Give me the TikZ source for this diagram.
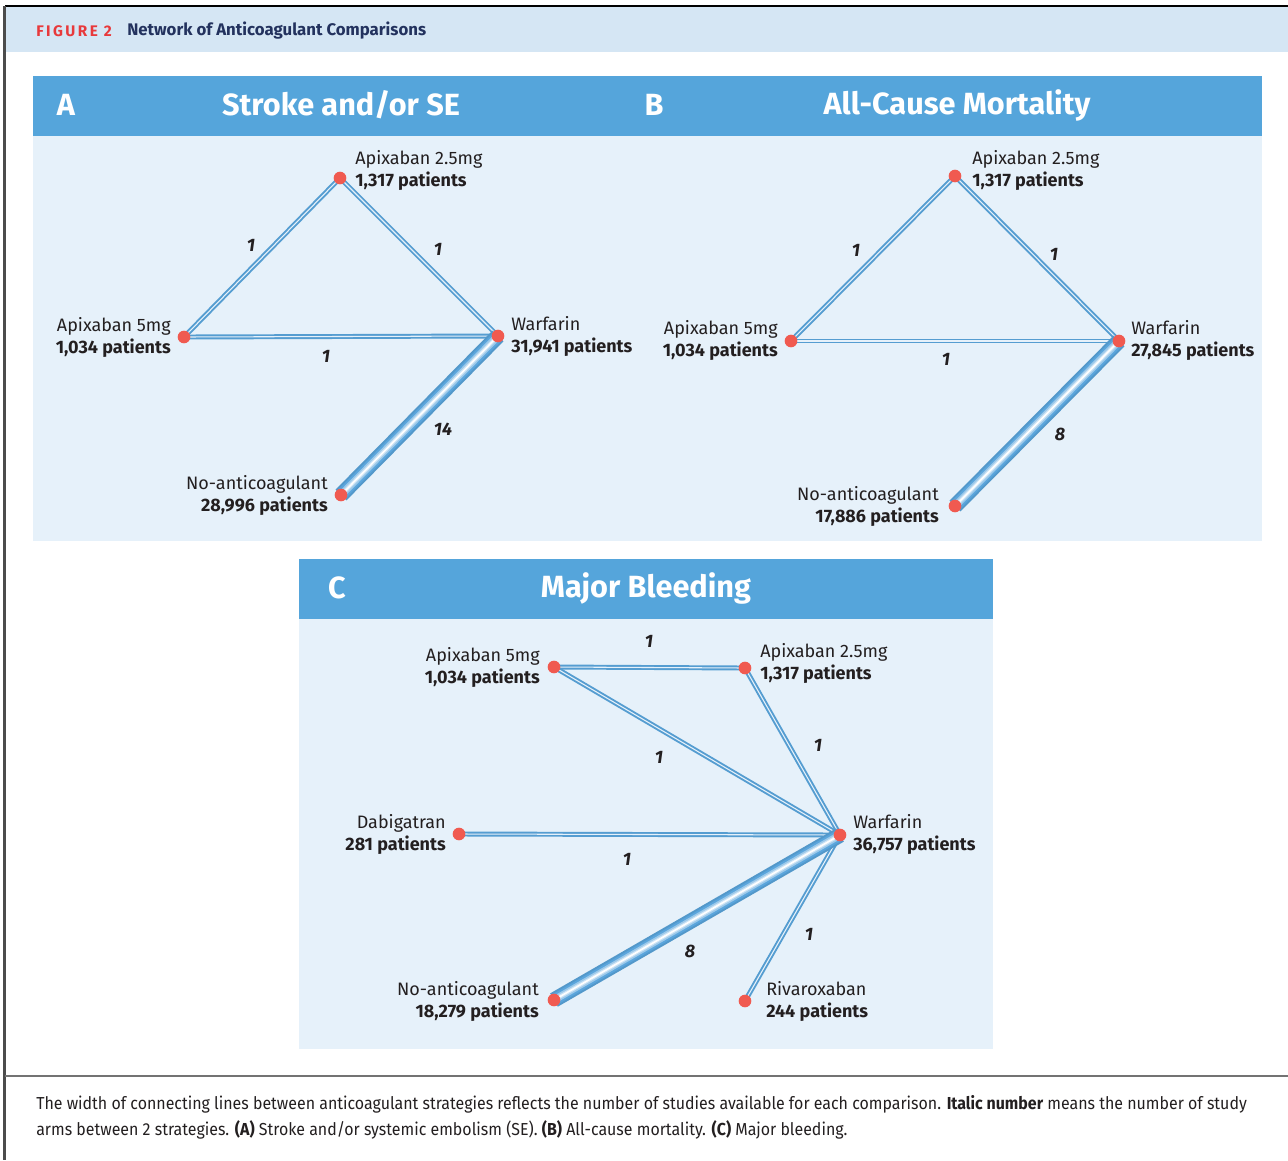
\documentclass[tikz,border=0pt]{standalone}
\usepackage{fontspec}
\setmainfont{Fira Sans}
\newfontfamily\capfont[FakeStretch=0.92]{Fira Sans}
\definecolor{hdrband}{HTML}{D5E6F4}
\definecolor{barblue}{HTML}{55A5DB}
\definecolor{panelbg}{HTML}{E6F1FA}
\definecolor{dotred}{HTML}{F05A50}
\definecolor{eblue}{HTML}{5AA5DC}
\definecolor{txt}{HTML}{231F20}
\definecolor{figred}{HTML}{E8393B}
\definecolor{navy}{HTML}{23325E}
\pgfdeclarelayer{bg}
\pgfdeclarelayer{edges}
\pgfsetlayers{bg,edges,main}
\tikzset{
  dot/.style={circle,fill=dotred,minimum size=9.5pt,inner sep=0pt},
  lbl/.style={inner sep=0pt,text=txt,font=\fontsize{13.5}{16.5}\selectfont},
  lblL/.style={lbl,anchor=west,align=left},
  lblR/.style={lbl,anchor=east,align=right},
  enum/.style={inner sep=0pt,text=txt,font=\fontsize{13.5}{13.5}\selectfont\bfseries\itshape},
  ttl/.style={inner sep=0pt,text=white,font=\fontsize{23}{23}\selectfont\bfseries},
  thinout/.style={line width=3.7pt,eblue!95!black},
  thinin/.style={line width=0.8pt,white!85!eblue},
  captxt/.style={anchor=west,inner sep=0pt,text=txt,font=\capfont\fontsize{13.0}{14}\selectfont},
}
\newcommand\thinedge[2]{\draw[thinout](#1.center)--(#2.center);\draw[thinin](#1.center)--(#2.center);}
\newcommand\thickedge[2]{%
  \draw[line width=11.5pt,eblue!92!black](#1.center)--(#2.center);
  \draw[line width=8.5pt,eblue](#1.center)--(#2.center);
  \draw[line width=5.5pt,eblue!60!white](#1.center)--(#2.center);
  \draw[line width=3pt,eblue!30!white](#1.center)--(#2.center);
  \draw[line width=1.2pt,white](#1.center)--(#2.center);}
\begin{document}
\begin{tikzpicture}[x=0.75pt,y=-0.75pt]
\useasboundingbox (0,0) rectangle (1288,1160);
\begin{pgfonlayer}{bg}
\fill[white] (0,0) rectangle (1288,1160);
\fill[hdrband] (6,7) rectangle (1288,52);
\draw[black,line width=0.9pt] (5,6) -- (1288,6);
\draw[black!70,line width=1.8pt] (4.5,6) -- (4.5,1160);
\draw[black!55,line width=2.2pt] (5,1076) -- (1288,1076);
\fill[barblue] (33,76) rectangle (1262,136);
\fill[panelbg] (33,136) rectangle (1262,541);
\fill[barblue] (299,559) rectangle (993,619);
\fill[panelbg] (299,619) rectangle (993,1049);
\end{pgfonlayer}

% header
\node[anchor=west,inner sep=0pt,text=figred,font=\fontsize{11.5}{12}\selectfont\bfseries\addfontfeatures{LetterSpace=16}] (fig) at (36,31) {FIGURE 2};
\node[anchor=west,inner sep=0pt,text=navy,font=\fontsize{12.6}{13}\selectfont\bfseries] (ftitle) at (127,31) {Network of Anticoagulant Comparisons};

% titles
\node[ttl] (tA) at (66,105) {A};
\node[ttl] (tAt) at (341,105) {Stroke and/or SE};
\node[ttl] (tB) at (654,105) {B};
\node[ttl] (tBt) at (957,105) {All-Cause Mortality};
\node[ttl] (tC) at (337,588) {C};
\node[ttl] (tCt) at (646,588) {Major Bleeding};

% Panel A
\node[dot] (a25) at (340,178) {};
\node[dot] (a5) at (184,337) {};
\node[dot] (aw) at (498,336) {};
\node[dot] (an) at (341,495) {};
\node[lblL] (la25) at (355,170) {Apixaban 2.5mg\\\textbf{1,317 patients}};
\node[lblR] (la5) at (171,337) {Apixaban 5mg\\\textbf{1,034 patients}};
\node[lblL] (law) at (511,336) {Warfarin\\\textbf{31,941 patients}};
\node[lblR] (lan) at (328,495) {No-anticoagulant\\\textbf{28,996 patients}};
\begin{pgfonlayer}{edges}
\thinedge{a5}{a25}
\thinedge{a25}{aw}
\thinedge{a5}{aw}
\thickedge{aw}{an}
\end{pgfonlayer}
\node[enum] (ea1) at (251,245) {1};
\node[enum] (ea2) at (438,249) {1};
\node[enum] (ea3) at (326,356) {1};
\node[enum] (ea4) at (443,429) {14};

% Panel B
\node[dot] (b25) at (955,176) {};
\node[dot] (b5) at (791,341) {};
\node[dot] (bw) at (1119,341) {};
\node[dot] (bn) at (955,506) {};
\node[lblL] (lb25) at (972,170) {Apixaban 2.5mg\\\textbf{1,317 patients}};
\node[lblR] (lb5) at (778,340) {Apixaban 5mg\\\textbf{1,034 patients}};
\node[lblL] (lbw) at (1131,340) {Warfarin\\\textbf{27,845 patients}};
\node[lblR] (lbn) at (939,506) {No-anticoagulant\\\textbf{17,886 patients}};
\begin{pgfonlayer}{edges}
\thinedge{b5}{b25}
\thinedge{b25}{bw}
\thinedge{b5}{bw}
\thickedge{bw}{bn}
\end{pgfonlayer}
\node[enum] (eb1) at (856,250) {1};
\node[enum] (eb2) at (1054,254) {1};
\node[enum] (eb3) at (946,359) {1};
\node[enum] (eb4) at (1060,434) {8};

% Panel C
\node[dot] (c5) at (554,667) {};
\node[dot] (c25) at (745,668) {};
\node[dot] (cd) at (459,834) {};
\node[dot] (cw) at (840,835) {};
\node[dot] (cn) at (554,1000) {};
\node[dot] (cr) at (745,1001) {};
\node[lblR] (lc5) at (540,667) {Apixaban 5mg\\\textbf{1,034 patients}};
\node[lblL] (lc25) at (760,663) {Apixaban 2.5mg\\\textbf{1,317 patients}};
\node[lblR] (lcd) at (446,834) {Dabigatran\\\textbf{281 patients}};
\node[lblL] (lcw) at (853,834) {Warfarin\\\textbf{36,757 patients}};
\node[lblR] (lcn) at (539,1001) {No-anticoagulant\\\textbf{18,279 patients}};
\node[lblL] (lcr) at (766,1001) {Rivaroxaban\\\textbf{244 patients}};
\begin{pgfonlayer}{edges}
\thinedge{c5}{c25}
\thinedge{c5}{cw}
\thinedge{c25}{cw}
\thinedge{cd}{cw}
\thinedge{cr}{cw}
\thickedge{cw}{cn}
\end{pgfonlayer}
\node[enum] (ec1) at (649,641) {1};
\node[enum] (ec2) at (818,745) {1};
\node[enum] (ec3) at (659,757) {1};
\node[enum] (ec4) at (627,859) {1};
\node[enum] (ec5) at (690,951) {8};
\node[enum] (ec6) at (809,934) {1};

% caption
\node[captxt] (cap1) at (36,1104) {The width of connecting lines between anticoagulant strategies reflects the number of studies available for each comparison. \textbf{Italic number} means the number of study};
\node[captxt] (cap2) at (36,1130) {arms between 2 strategies. \textbf{(A)} Stroke and/or systemic embolism (SE). \textbf{(B)} All-cause mortality. \textbf{(C)} Major bleeding.};
\end{tikzpicture}
\end{document}
